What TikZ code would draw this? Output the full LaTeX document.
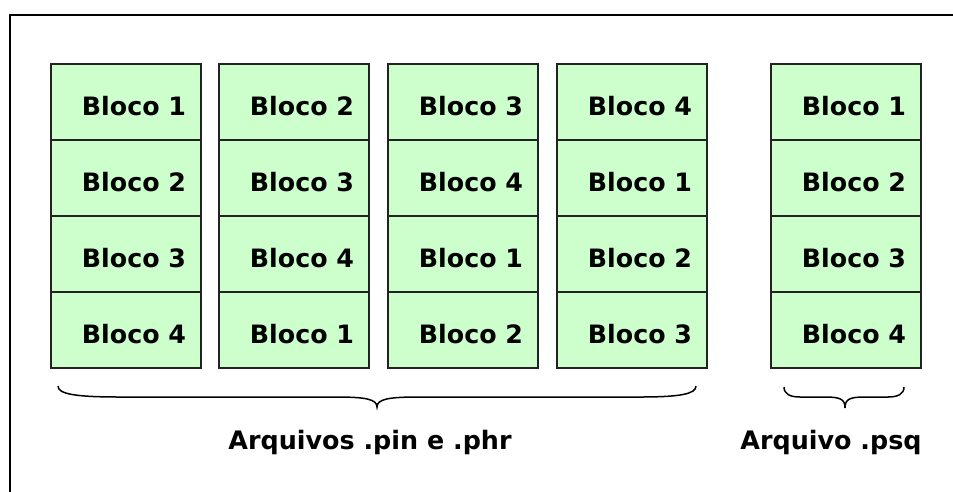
\documentclass[tikz,border=0pt]{standalone}
\usepackage{fontspec}
\setmainfont{DejaVu Sans}
\definecolor{cellgreen}{HTML}{CCFFCC}
\definecolor{edgegray}{HTML}{222222}
\begin{document}
\begin{tikzpicture}[x=1pt,y=-1pt,
  cell/.style={draw=edgegray, line width=1.4pt, fill=cellgreen,
    minimum width=150pt, minimum height=76pt, inner sep=0pt,
    font=\fontsize{25.3}{30}\selectfont\bfseries,
    text height=26.5pt, text depth=0pt},
  bracepath/.style={draw=black, line width=1.5pt},
  lab/.style={font=\fontsize{25.4}{30}\selectfont\bfseries, inner sep=0pt}]
\useasboundingbox (0,0) rectangle (953,491);
% frame (open at right and bottom)
\draw[line width=2pt] (10,500) -- (10,15) -- (965,15);
% cells
\foreach \cx [count=\c] in {51,219,388,557,771} {
  \foreach \r in {1,...,4} {
    \ifnum\c=5
      \pgfmathtruncatemacro\n{\r}
    \else
      \pgfmathtruncatemacro\n{mod(\c+\r-2,4)+1}
    \fi
    \node[cell] (c\c-\r) at (\cx+75, 102+76*\r-76) {\hspace*{16pt}Bloco \n};
  }
}
% braces
\coordinate (bl) at (58,386);
\coordinate (bt) at (377,407);
\coordinate (br) at (696,386);
\draw[bracepath] (bl) .. controls (58,394) and (75,397) .. (120,397) -- (335,397)
  .. controls (365,397) and (377,399) .. (bt)
  .. controls (377,399) and (389,397) .. (419,397) -- (640,397)
  .. controls (680,397) and (696,394) .. (br);
\coordinate (sl) at (784,387);
\coordinate (st) at (845,408);
\coordinate (sr) at (904,387);
\draw[bracepath] (sl) .. controls (784,394) and (790,397) .. (800,397) -- (825,397)
  .. controls (840,397) and (845,399) .. (st)
  .. controls (845,399) and (850,397) .. (865,397) -- (888,397)
  .. controls (898,397) and (904,394) .. (sr);
% labels
\node[lab, anchor=base] (lpin) at (370,449) {Arquivos .pin e .phr};
\node[lab, anchor=base] (lpsq) at (831,449) {Arquivo .psq};
\end{tikzpicture}
\end{document}
